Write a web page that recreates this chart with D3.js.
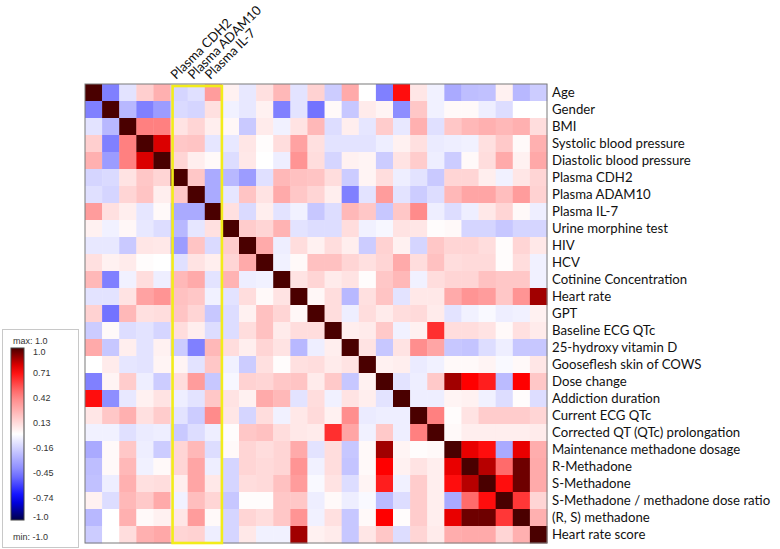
<!DOCTYPE html>
<html>
<head>
<meta charset="utf-8">
<script src="https://cdnjs.cloudflare.com/ajax/libs/d3/7.8.5/d3.min.js"></script>
<style>
  html, body { margin: 0; padding: 0; background: #fff; }
  svg { display: block; }
</style>
</head>
<body>
<svg id="chart" width="780" height="549"></svg>
<script>
// ---- DATA ----
const variables = [
  "Age", "Gender", "BMI", "Systolic blood pressure", "Diastolic blood pressure",
  "Plasma CDH2", "Plasma ADAM10", "Plasma IL-7", "Urine morphine test", "HIV", "HCV",
  "Cotinine Concentration", "Heart rate", "GPT", "Baseline ECG QTc", "25-hydroxy vitamin D",
  "Gooseflesh skin of COWS", "Dose change", "Addiction duration", "Current ECG QTc",
  "Corrected QT (QTc) prolongation", "Maintenance methadone dosage", "R-Methadone",
  "S-Methadone", "S-Methadone / methadone dose ratio", "(R, S) methadone", "Heart rate score"
];
const topLabels = ["Plasma CDH2", "Plasma ADAM10", "Plasma IL-7"];
const highlighted = ["Plasma CDH2", "Plasma IL-7"]; // first and last column of the yellow box

// lower triangle of the correlation matrix (row i holds columns 0..i)
const lowerTriangle = [
  [1],
  [-0.45, 1],
  [-0.10, -0.25, 1],
  [0.17, -0.45, 0.45, 1],
  [0.28, -0.35, 0.45, 0.80, 1],
  [-0.15, -0.13, 0.10, 0.20, 0.15, 1],
  [-0.11, -0.15, 0.15, 0.21, 0.06, 0.20, 1],
  [0.35, 0.11, 0.06, -0.09, 0.02, -0.30, -0.30, 1],
  [0.05, -0.05, 0.03, -0.08, -0.12, -0.25, -0.09, 0.11, 1],
  [-0.08, -0.08, -0.19, 0.09, 0.08, -0.35, 0.21, -0.13, 0.18, 1],
  [0.11, 0.05, 0.07, 0.01, 0.00, -0.11, 0.10, 0.06, 0.15, 0.30, 1],
  [0.25, -0.45, -0.05, 0.12, -0.06, 0.25, 0.30, -0.10, 0.27, -0.06, -0.05, 1],
  [-0.10, -0.10, 0.10, 0.33, 0.38, 0.22, 0.20, -0.05, -0.10, 0.12, 0.02, 0.10, 1],
  [0.16, -0.48, 0.25, 0.11, 0.12, 0.21, 0.15, -0.20, -0.12, 0.05, 0.22, 0.15, 0.03, 1],
  [-0.18, 0.02, -0.12, -0.10, -0.15, 0.12, 0.06, -0.12, -0.12, 0.12, 0.22, 0.07, 0.12, 0.12, 1],
  [0.30, -0.20, 0.06, -0.10, 0.05, -0.18, -0.45, 0.25, 0.12, 0.06, 0.15, 0.10, -0.25, -0.06, 0.06, 1],
  [0.00, 0.07, -0.09, -0.10, 0.04, 0.04, -0.10, 0.20, -0.05, -0.18, 0.11, 0.01, 0.11, 0.12, 0.07, 0.10, 1],
  [-0.45, 0.04, 0.18, -0.06, -0.18, 0.12, 0.35, -0.20, -0.03, 0.16, 0.15, 0.20, 0.21, 0.07, 0.19, -0.20, 0.05, 1],
  [0.72, -0.40, -0.08, 0.05, 0.10, -0.06, -0.10, 0.20, 0.10, 0.05, 0.30, 0.25, -0.10, 0.12, -0.05, 0.10, 0.06, -0.10, 1],
  [0.09, 0.20, 0.28, 0.11, 0.18, -0.10, -0.18, 0.41, 0.09, -0.15, 0.12, -0.05, 0.08, 0.13, 0.05, 0.40, -0.07, -0.06, -0.06, 1],
  [-0.05, -0.05, -0.11, -0.07, -0.06, -0.19, -0.12, -0.06, 0.01, 0.20, 0.22, 0.12, 0.08, 0.07, 0.64, 0.32, -0.05, 0.19, -0.06, 0.45, 1],
  [-0.30, 0.02, 0.20, -0.06, -0.18, 0.15, 0.25, -0.12, 0.02, 0.15, 0.12, 0.15, 0.30, -0.10, 0.12, -0.20, 0.02, 0.88, 0.04, 0.01, 0.02, 1],
  [-0.23, 0.02, 0.25, -0.05, 0.02, 0.15, 0.32, -0.06, -0.15, 0.15, 0.13, 0.15, 0.38, -0.05, 0.12, -0.21, 0.02, 0.75, 0.05, 0.10, 0.06, 0.78, 1],
  [-0.22, -0.06, 0.28, 0.11, 0.12, 0.06, 0.32, 0.08, -0.15, 0.12, 0.13, 0.22, 0.35, -0.02, 0.10, -0.12, 0.04, 0.68, -0.05, 0.18, 0.06, 0.72, 0.85, 1],
  [0.05, -0.12, 0.25, 0.19, 0.30, -0.05, 0.23, 0.15, -0.20, 0.01, 0.01, 0.20, 0.20, -0.06, 0.02, -0.06, -0.02, -0.24, -0.12, 0.18, 0.06, -0.30, 0.50, 0.72, 1],
  [-0.25, 0.00, 0.28, 0.02, 0.05, 0.09, 0.35, 0.02, -0.15, 0.15, 0.12, 0.20, 0.38, -0.05, 0.11, -0.20, 0.02, 0.75, 0.01, 0.18, 0.06, 0.78, 0.95, 0.95, 0.62, 1],
  [-0.18, 0.00, 0.12, 0.28, 0.31, 0.15, 0.16, -0.06, -0.15, 0.08, -0.05, -0.05, 0.88, 0.05, 0.07, -0.20, 0.09, 0.20, -0.12, 0.15, 0.07, 0.29, 0.30, 0.30, 0.15, 0.28, 1]
];
const legendTicks = [1.0, 0.71, 0.42, 0.13, -0.16, -0.45, -0.74, -1.0];
const legendMax = 1.0, legendMin = -1.0;

// ---- BUILD ----
const n = variables.length;
const cells = [];
for (let i = 0; i < n; i++) {
  for (let j = 0; j < n; j++) {
    const v = j <= i ? lowerTriangle[i][j] : lowerTriangle[j][i];
    cells.push({ row: i, col: j, value: v });
  }
}

const svg = d3.select("#chart");
const font = "Lato, 'Open Sans', sans-serif";

const color = d3.scaleLinear()
  .domain([-1, -0.75, -0.45, 0, 0.45, 0.75, 1])
  .range(["#00004a", "#0000ff", "#8080ff", "#ffffff", "#ff8080", "#ff0000", "#4a0000"])
  .interpolate(d3.interpolateRgb)
  .clamp(true);

const x = d3.scaleBand().domain(d3.range(n)).range([85, 547]);
const y = d3.scaleBand().domain(d3.range(n)).range([84, 543]);

svg.append("g").selectAll("rect").data(cells).join("rect")
  .attr("x", d => x(d.col))
  .attr("y", d => y(d.row))
  .attr("width", x.bandwidth() + 0.4)
  .attr("height", y.bandwidth() + 0.4)
  .attr("fill", d => color(d.value));

svg.append("rect")
  .attr("x", x.range()[0]).attr("y", y.range()[0])
  .attr("width", x.range()[1] - x.range()[0])
  .attr("height", y.range()[1] - y.range()[0])
  .attr("fill", "none").attr("stroke", "#7a7a7a").attr("stroke-width", 1);

// yellow highlight box
const c0 = variables.indexOf(highlighted[0]), c1 = variables.indexOf(highlighted[1]);
svg.append("rect")
  .attr("x", x(c0) + 2)
  .attr("y", y(0) + 2)
  .attr("width", x(c1) + x.bandwidth() - x(c0) - 2)
  .attr("height", y(n - 1) + y.bandwidth() - y(0) - 2)
  .attr("fill", "none").attr("stroke", "#f2ec1a").attr("stroke-width", 2.6);

// right labels
svg.append("g").selectAll("text").data(variables).join("text")
  .attr("x", x.range()[1] + 5)
  .attr("y", (d, i) => y(i) + y.bandwidth() / 2)
  .attr("dy", "0.35em")
  .attr("font-family", font)
  .attr("font-size", 13.2)
  .attr("fill", "#111")
  .text(d => d);

// top labels (rotated)
svg.append("g").selectAll("text").data(topLabels).join("text")
  .attr("transform", d => {
    const i = variables.indexOf(d);
    return `translate(${x(i) + x.bandwidth() / 2 - 3},${y.range()[0] - 4}) rotate(-45)`;
  })
  .attr("font-family", font)
  .attr("font-size", 13)
  .attr("fill", "#111")
  .text(d => d);

// legend
const lg = svg.append("g");
lg.append("rect").attr("x", 2.5).attr("y", 329.5).attr("width", 76).attr("height", 218)
  .attr("fill", "#fff").attr("stroke", "#c8c8c8");
const ly = d3.scaleLinear().domain([legendMax, legendMin]).range([348, 520]);
const defs = svg.append("defs");
const grad = defs.append("linearGradient").attr("id", "lgrad")
  .attr("x1", 0).attr("y1", 0).attr("x2", 0).attr("y2", 1);
d3.range(0, 1.0001, 0.05).forEach(t => {
  grad.append("stop").attr("offset", t).attr("stop-color", color(legendMax - t * (legendMax - legendMin)));
});
lg.append("rect").attr("x", 11).attr("y", ly(legendMax)).attr("width", 13)
  .attr("height", ly(legendMin) - ly(legendMax))
  .attr("fill", "url(#lgrad)").attr("stroke", "#444").attr("stroke-width", 1);
lg.append("text").attr("x", 13).attr("y", 344).attr("font-family", "'Liberation Sans', Arial, sans-serif")
  .attr("font-size", 9).attr("fill", "#333").text("max: " + legendMax.toFixed(1));
lg.append("text").attr("x", 13).attr("y", 540).attr("font-family", "'Liberation Sans', Arial, sans-serif")
  .attr("font-size", 9).attr("fill", "#333").text("min: " + legendMin.toFixed(1));
lg.append("g").selectAll("text").data(legendTicks).join("text")
  .attr("x", 33)
  .attr("y", d => ly(d) + (d === legendMax ? 7 : d === legendMin ? 0 : 3))
  .attr("font-family", "'Liberation Sans', Arial, sans-serif")
  .attr("font-size", 9).attr("fill", "#333")
  .text(d => (Math.abs(d) === 1 ? d.toFixed(1) : String(d)));
</script>
</body>
</html>
